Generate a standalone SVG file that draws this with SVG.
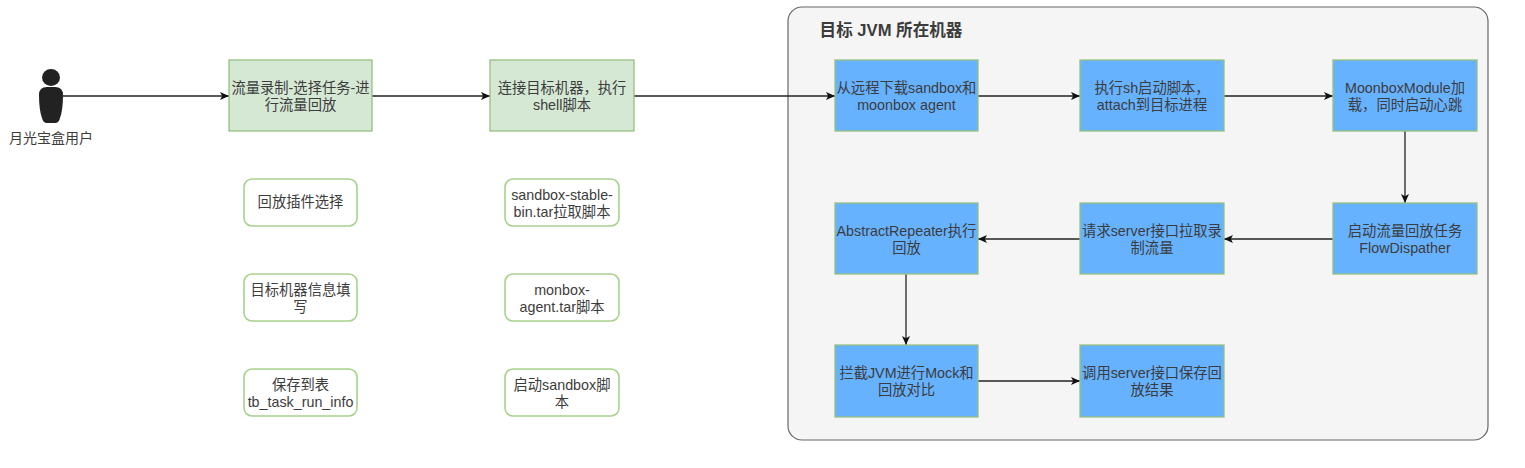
<svg xmlns="http://www.w3.org/2000/svg" width="1525" height="468" viewBox="0 0 1525 468">
<style>
text{font-family:"Liberation Sans","Noto Sans CJK SC",sans-serif;font-size:14.3px;fill:#3c3c3c;text-anchor:middle}
.g{fill:#d5e8d4;stroke:#97c07f;stroke-width:1.3}
.b{fill:#66b2ff;stroke:#97c07f;stroke-width:1.3}
.w{fill:#fff;stroke:#a9d18e;stroke-width:1.6}
.c{fill:none;stroke:#222;stroke-width:1.3;marker-end:url(#a)}
</style>
<defs><marker id="a" markerUnits="userSpaceOnUse" markerWidth="10" markerHeight="10" refX="9" refY="5" orient="auto"><path d="M0 1 L9 5 L0 9 L2.2 5Z" fill="#111"/></marker></defs>
<rect width="1525" height="468" fill="#fff"/>
<g id="container"><rect x="788" y="7" width="700" height="433" rx="14" fill="#f5f5f5" stroke="#666" stroke-width="1.2"/><text x="891" y="35.500" style="font-size:16.600px;font-weight:bold">目标 JVM 所在机器</text></g>
<g id="connectors">
<path class="c" d="M63 96H229"/><path class="c" d="M372 96H490"/><path class="c" d="M634 96H835"/>
<path class="c" d="M978 96H1080"/><path class="c" d="M1224 96H1333"/><path class="c" d="M1405 131V203"/>
<path class="c" d="M1333 239H1224"/><path class="c" d="M1080 239H978"/><path class="c" d="M906 274V345"/><path class="c" d="M978 381H1080"/>
</g>
<g id="user"><ellipse cx="51" cy="77.500" rx="9" ry="8.500" fill="#222"/><path d="M39 95Q39 87 47 87H55Q63 87 63 95Q63 110 60 118Q59 123 55 123H47Q43 123 42 118Q39 110 39 95Z" fill="#222"/><text x="51" y="143" style="font-size:14px">月光宝盒用户</text></g>
<g id="n1"><rect class="g" x="229" y="60" width="143" height="71"/><text x="300.500" y="93">流量录制-选择任务-进</text><text x="300.500" y="110">行流量回放</text></g>
<g id="n2"><rect class="g" x="490" y="60" width="144" height="71"/><text x="562" y="93">连接目标机器，执行</text><text x="562" y="110">shell脚本</text></g>
<g id="o1"><rect class="w" x="244" y="179" width="113" height="47" rx="8"/><text x="300.500" y="207">回放插件选择</text></g>
<g id="o2"><rect class="w" x="244" y="274" width="113" height="47" rx="8"/><text x="300.500" y="295">目标机器信息填</text><text x="300.500" y="312">写</text></g>
<g id="o3"><rect class="w" x="244" y="369" width="113" height="47" rx="8"/><text x="300.500" y="390">保存到表</text><text x="300.500" y="407">tb_task_run_info</text></g>
<g id="s1"><rect class="w" x="505" y="179" width="114" height="47" rx="8"/><text x="562" y="200">sandbox-stable-</text><text x="562" y="217">bin.tar拉取脚本</text></g>
<g id="s2"><rect class="w" x="505" y="274" width="114" height="47" rx="8"/><text x="562" y="295">monbox-</text><text x="562" y="312">agent.tar脚本</text></g>
<g id="s3"><rect class="w" x="505" y="369" width="114" height="47" rx="8"/><text x="562" y="390">启动sandbox脚</text><text x="562" y="407">本</text></g>
<g id="b1"><rect class="b" x="835" y="60" width="143" height="71"/><text x="906.500" y="93">从远程下载sandbox和</text><text x="906.500" y="110">moonbox agent</text></g>
<g id="b2"><rect class="b" x="1080" y="60" width="144" height="71"/><text x="1152" y="93">执行sh启动脚本，</text><text x="1152" y="110">attach到目标进程</text></g>
<g id="b3"><rect class="b" x="1333" y="60" width="144" height="71"/><text x="1405" y="93">MoonboxModule加</text><text x="1405" y="110">载，同时启动心跳</text></g>
<g id="b4"><rect class="b" x="1333" y="203" width="144" height="71"/><text x="1405" y="236">启动流量回放任务</text><text x="1405" y="253">FlowDispather</text></g>
<g id="b5"><rect class="b" x="1080" y="203" width="144" height="71"/><text x="1152" y="236">请求server接口拉取录</text><text x="1152" y="253">制流量</text></g>
<g id="b6"><rect class="b" x="835" y="203" width="143" height="71"/><text x="906.500" y="236">AbstractRepeater执行</text><text x="906.500" y="253">回放</text></g>
<g id="b7"><rect class="b" x="835" y="345" width="143" height="72"/><text x="906.500" y="378">拦截JVM进行Mock和</text><text x="906.500" y="395">回放对比</text></g>
<g id="b8"><rect class="b" x="1080" y="345" width="144" height="72"/><text x="1152" y="378">调用server接口保存回</text><text x="1152" y="395">放结果</text></g>
</svg>
